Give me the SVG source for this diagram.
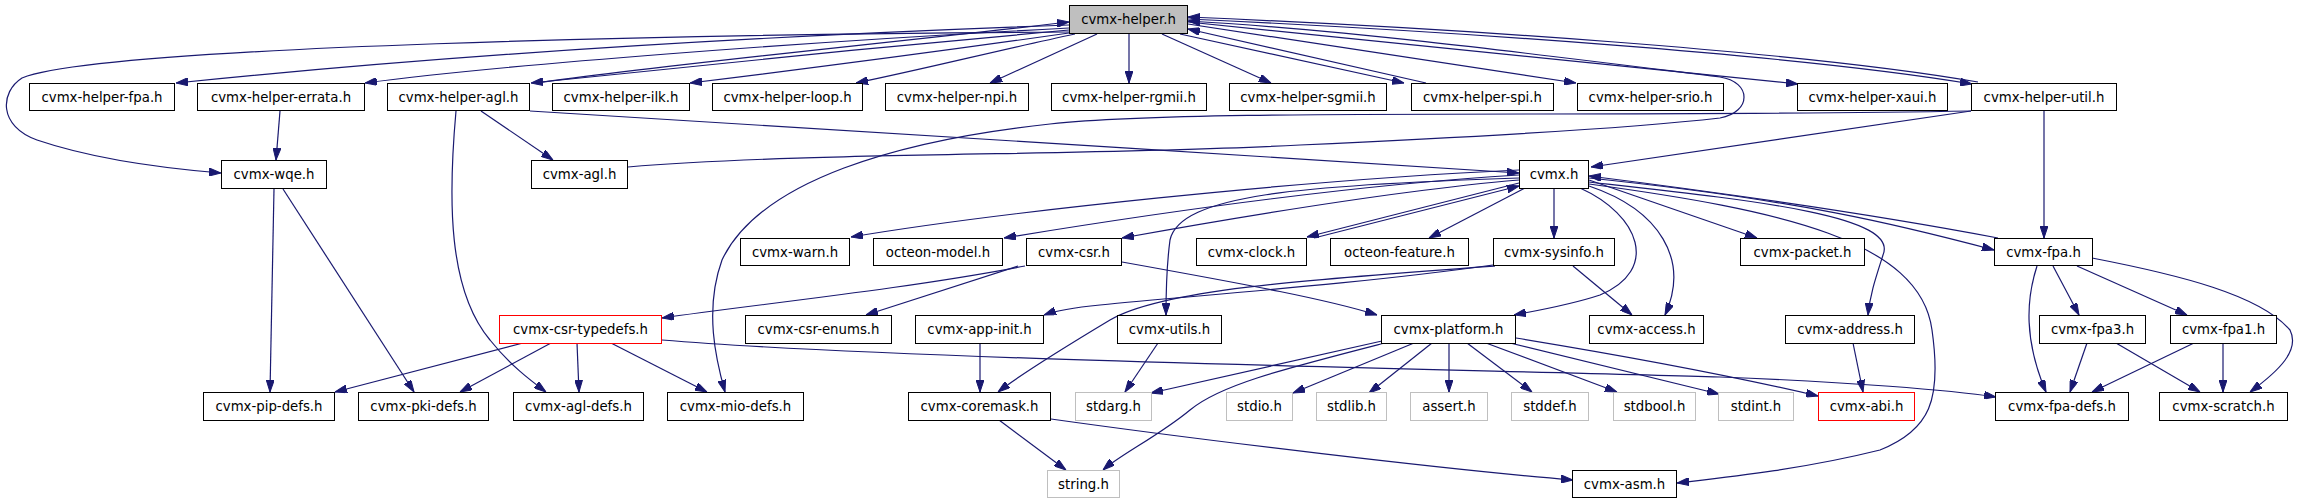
<svg xmlns="http://www.w3.org/2000/svg" width="2301" height="504" viewBox="0 0 2301 504">
<style>
rect{fill:#fff;stroke:#000;stroke-width:1}
.root rect{fill:#bfbfbf}
.sys rect{stroke:#bfbfbf}
.red rect{stroke:#ff0000}
text{font-family:"DejaVu Sans","Liberation Sans",sans-serif;font-size:13.3px;text-anchor:middle;fill:#000}
#edges path{fill:none;stroke:#191970;stroke-width:1.2;marker-end:url(#ah)}
</style>
<defs>
<marker id="ah" viewBox="0 0 12 8" refX="12" refY="4" markerWidth="12" markerHeight="8" markerUnits="userSpaceOnUse" orient="auto">
<path d="M0,0 L12,4 L0,8 Z" fill="#191970" stroke="#191970"/>
</marker>
</defs>
<rect x="0" y="0" width="2301" height="504" style="fill:#fff;stroke:none"/>
<g id="edges">
<path d="M1069,32 C700,34 100,46 22,78 C0,92 -2,126 37,140 C90,158 160,168 221,173"/>
<path d="M1069,25 C700,38 400,60 176,83"/>
<path d="M1069,28 C800,42 500,65 365,83"/>
<path d="M1069,30 C900,45 650,70 531,83"/>
<path d="M537,83 C650,66 900,42 1069,22"/>
<path d="M1069,33 C950,50 780,72 690,83"/>
<path d="M1075,34 C1000,50 920,70 856,83"/>
<path d="M1097,34 L990,83"/>
<path d="M1129,34 L1129,83"/>
<path d="M1162,34 L1271,83"/>
<path d="M1180,34 L1404,83"/>
<path d="M1426,83 L1188,29"/>
<path d="M1188,24 L1576,83"/>
<path d="M1188,22 L1798,84"/>
<path d="M1188,19 C1450,31 1800,55 1972,84"/>
<path d="M1978,82 C1800,51 1450,28 1188,17"/>
<path d="M628,167 C800,152 1100,156 1300,145 C1500,136 1650,126 1720,118 C1752,112 1752,82 1720,77 C1550,56 1350,30 1188,21"/>
<path d="M1971,111 C1600,118 1200,108 1050,124 C900,140 760,180 722,260 C704,310 716,360 725,392"/>
<path d="M1971,111 L1591,167"/>
<path d="M2044,111 L2044,238"/>
<path d="M280,111 L276,160"/>
<path d="M481,111 L553,160"/>
<path d="M456,111 C448,200 448,290 490,340 C510,365 530,380 546,392"/>
<path d="M530,111 C800,128 1200,152 1519,173"/>
<path d="M274,189 L270,392"/>
<path d="M283,189 L414,392"/>
<path d="M1519,170 C1300,180 1000,212 851,237"/>
<path d="M1519,175 C1350,185 1150,214 1004,238"/>
<path d="M1519,180 C1400,190 1250,215 1122,238"/>
<path d="M1519,178 C1300,185 1180,195 1170,240 C1166,270 1166,300 1166,315"/>
<path d="M1519,183 L1307,237"/>
<path d="M1314,238 L1519,186"/>
<path d="M1525,188 L1429,238"/>
<path d="M1554,188 L1554,238"/>
<path d="M1580,188 C1640,215 1660,270 1600,295 C1570,305 1540,310 1514,315"/>
<path d="M1589,186 C1660,210 1690,260 1665,315"/>
<path d="M1589,180 L1757,238"/>
<path d="M1589,178 C1800,200 1900,225 1994,250"/>
<path d="M1998,238 C1850,210 1700,190 1589,176"/>
<path d="M1589,182 C1750,200 1900,215 1883,255 C1875,280 1870,295 1868,315"/>
<path d="M1589,184 C1780,210 1920,240 1932,330 C1942,400 1930,430 1880,450 C1800,470 1720,478 1677,483"/>
<path d="M1493,265 C1350,285 1200,295 1100,305 C1070,308 1055,311 1044,315"/>
<path d="M1495,266 C1300,280 1160,290 1110,320 C1060,350 1020,375 998,392"/>
<path d="M1573,266 L1632,315"/>
<path d="M1025,266 C900,290 750,305 662,318"/>
<path d="M1018,266 L866,315"/>
<path d="M1122,262 C1250,285 1330,300 1377,315"/>
<path d="M523,343 L335,392"/>
<path d="M551,343 L460,392"/>
<path d="M577,343 L579,392"/>
<path d="M611,343 L707,392"/>
<path d="M662,340 C900,360 1500,370 1720,377 C1850,382 1950,390 1996,397"/>
<path d="M980,343 L980,392"/>
<path d="M999,420 L1066,470"/>
<path d="M1051,419 C1200,440 1450,470 1573,480"/>
<path d="M1158,343 L1125,392"/>
<path d="M1382,341 L1151,393"/>
<path d="M1385,343 C1280,370 1220,385 1190,410 C1160,435 1120,455 1103,470"/>
<path d="M1414,343 L1293,393"/>
<path d="M1432,343 L1369,393"/>
<path d="M1449,343 L1449,392"/>
<path d="M1467,343 L1532,392"/>
<path d="M1486,343 L1617,392"/>
<path d="M1510,343 L1719,394"/>
<path d="M1516,338 C1650,360 1750,380 1818,396"/>
<path d="M1853,343 L1863,392"/>
<path d="M2037,266 C2026,300 2024,340 2046,392"/>
<path d="M2053,266 L2079,315"/>
<path d="M2077,266 L2187,315"/>
<path d="M2092,258 C2180,275 2260,295 2290,330 C2300,350 2280,370 2250,392"/>
<path d="M2087,343 L2070,392"/>
<path d="M2116,343 L2200,392"/>
<path d="M2194,343 L2092,392"/>
<path d="M2223,343 L2223,392"/>
</g>
<g id="n_helper" class="root"><rect x="1069.5" y="5.5" width="118" height="28"/><text x="1128.5" y="24">cvmx-helper.h</text></g>
<g id="n_hfpa"><rect x="29.5" y="83.5" width="145" height="27"/><text x="102" y="102">cvmx-helper-fpa.h</text></g>
<g id="n_herrata"><rect x="197.5" y="83.5" width="167" height="27"/><text x="281" y="102">cvmx-helper-errata.h</text></g>
<g id="n_hagl"><rect x="387.5" y="83.5" width="142" height="27"/><text x="458.5" y="102">cvmx-helper-agl.h</text></g>
<g id="n_hilk"><rect x="552.5" y="83.5" width="137" height="27"/><text x="621" y="102">cvmx-helper-ilk.h</text></g>
<g id="n_hloop"><rect x="712.5" y="83.5" width="150" height="27"/><text x="787.5" y="102">cvmx-helper-loop.h</text></g>
<g id="n_hnpi"><rect x="885.5" y="83.5" width="143" height="27"/><text x="957" y="102">cvmx-helper-npi.h</text></g>
<g id="n_hrgmii"><rect x="1051.5" y="83.5" width="155" height="27"/><text x="1129" y="102">cvmx-helper-rgmii.h</text></g>
<g id="n_hsgmii"><rect x="1229.5" y="83.5" width="157" height="27"/><text x="1308" y="102">cvmx-helper-sgmii.h</text></g>
<g id="n_hspi"><rect x="1411.5" y="83.5" width="142" height="27"/><text x="1482.5" y="102">cvmx-helper-spi.h</text></g>
<g id="n_hsrio"><rect x="1577.5" y="83.5" width="146" height="27"/><text x="1650.5" y="102">cvmx-helper-srio.h</text></g>
<g id="n_hxaui"><rect x="1797.5" y="83.5" width="150" height="27"/><text x="1872.5" y="102">cvmx-helper-xaui.h</text></g>
<g id="n_hutil"><rect x="1971.5" y="83.5" width="145" height="27"/><text x="2044" y="102">cvmx-helper-util.h</text></g>
<g id="n_wqe"><rect x="221.5" y="160.5" width="105" height="28"/><text x="274" y="179">cvmx-wqe.h</text></g>
<g id="n_agl"><rect x="531.5" y="160.5" width="96" height="28"/><text x="579.5" y="179">cvmx-agl.h</text></g>
<g id="n_cvmx"><rect x="1519.5" y="160.5" width="69" height="28"/><text x="1554" y="179">cvmx.h</text></g>
<g id="n_warn"><rect x="740.5" y="238.5" width="109" height="27"/><text x="795" y="257">cvmx-warn.h</text></g>
<g id="n_model"><rect x="873.5" y="238.5" width="129" height="27"/><text x="938" y="257">octeon-model.h</text></g>
<g id="n_csr"><rect x="1026.5" y="238.5" width="95" height="27"/><text x="1074" y="257">cvmx-csr.h</text></g>
<g id="n_clock"><rect x="1196.5" y="238.5" width="110" height="27"/><text x="1251.5" y="257">cvmx-clock.h</text></g>
<g id="n_feature"><rect x="1330.5" y="238.5" width="138" height="27"/><text x="1399.5" y="257">octeon-feature.h</text></g>
<g id="n_sysinfo"><rect x="1493.5" y="238.5" width="121" height="27"/><text x="1554" y="257">cvmx-sysinfo.h</text></g>
<g id="n_packet"><rect x="1740.5" y="238.5" width="124" height="27"/><text x="1802.5" y="257">cvmx-packet.h</text></g>
<g id="n_fpa"><rect x="1994.5" y="238.5" width="98" height="27"/><text x="2043.5" y="257">cvmx-fpa.h</text></g>
<g id="n_typedefs" class="red"><rect x="499.5" y="315.5" width="162" height="28"/><text x="580.5" y="334">cvmx-csr-typedefs.h</text></g>
<g id="n_enums"><rect x="745.5" y="315.5" width="146" height="28"/><text x="818.5" y="334">cvmx-csr-enums.h</text></g>
<g id="n_appinit"><rect x="915.5" y="315.5" width="128" height="28"/><text x="979.5" y="334">cvmx-app-init.h</text></g>
<g id="n_utils"><rect x="1117.5" y="315.5" width="104" height="28"/><text x="1169.5" y="334">cvmx-utils.h</text></g>
<g id="n_platform"><rect x="1381.5" y="315.5" width="134" height="28"/><text x="1448.5" y="334">cvmx-platform.h</text></g>
<g id="n_access"><rect x="1589.5" y="315.5" width="114" height="28"/><text x="1646.5" y="334">cvmx-access.h</text></g>
<g id="n_address"><rect x="1785.5" y="315.5" width="129" height="28"/><text x="1850" y="334">cvmx-address.h</text></g>
<g id="n_fpa3"><rect x="2039.5" y="315.5" width="106" height="28"/><text x="2092.5" y="334">cvmx-fpa3.h</text></g>
<g id="n_fpa1"><rect x="2170.5" y="315.5" width="106" height="28"/><text x="2223.5" y="334">cvmx-fpa1.h</text></g>
<g id="n_pip"><rect x="203.5" y="392.5" width="131" height="28"/><text x="269" y="411">cvmx-pip-defs.h</text></g>
<g id="n_pki"><rect x="358.5" y="392.5" width="130" height="28"/><text x="423.5" y="411">cvmx-pki-defs.h</text></g>
<g id="n_agldefs"><rect x="513.5" y="392.5" width="130" height="28"/><text x="578.5" y="411">cvmx-agl-defs.h</text></g>
<g id="n_mio"><rect x="667.5" y="392.5" width="136" height="28"/><text x="735.5" y="411">cvmx-mio-defs.h</text></g>
<g id="n_coremask"><rect x="908.5" y="392.5" width="142" height="28"/><text x="979.5" y="411">cvmx-coremask.h</text></g>
<g id="n_stdarg" class="sys"><rect x="1075.5" y="392.5" width="76" height="28"/><text x="1113.5" y="411">stdarg.h</text></g>
<g id="n_stdio" class="sys"><rect x="1226.5" y="392.5" width="66" height="28"/><text x="1259.5" y="411">stdio.h</text></g>
<g id="n_stdlib" class="sys"><rect x="1316.5" y="392.5" width="70" height="28"/><text x="1351.5" y="411">stdlib.h</text></g>
<g id="n_assert" class="sys"><rect x="1410.5" y="392.5" width="77" height="28"/><text x="1449" y="411">assert.h</text></g>
<g id="n_stddef" class="sys"><rect x="1511.5" y="392.5" width="77" height="28"/><text x="1550" y="411">stddef.h</text></g>
<g id="n_stdbool" class="sys"><rect x="1613.5" y="392.5" width="82" height="28"/><text x="1654.5" y="411">stdbool.h</text></g>
<g id="n_stdint" class="sys"><rect x="1718.5" y="392.5" width="75" height="28"/><text x="1756" y="411">stdint.h</text></g>
<g id="n_abi" class="red"><rect x="1818.5" y="392.5" width="96" height="28"/><text x="1866.5" y="411">cvmx-abi.h</text></g>
<g id="n_fpadefs"><rect x="1995.5" y="392.5" width="133" height="28"/><text x="2062" y="411">cvmx-fpa-defs.h</text></g>
<g id="n_scratch"><rect x="2159.5" y="392.5" width="128" height="28"/><text x="2223.5" y="411">cvmx-scratch.h</text></g>
<g id="n_string" class="sys"><rect x="1047.5" y="470.5" width="72" height="27"/><text x="1083.5" y="489">string.h</text></g>
<g id="n_asm"><rect x="1572.5" y="470.5" width="104" height="27"/><text x="1624.5" y="489">cvmx-asm.h</text></g>
</svg>
